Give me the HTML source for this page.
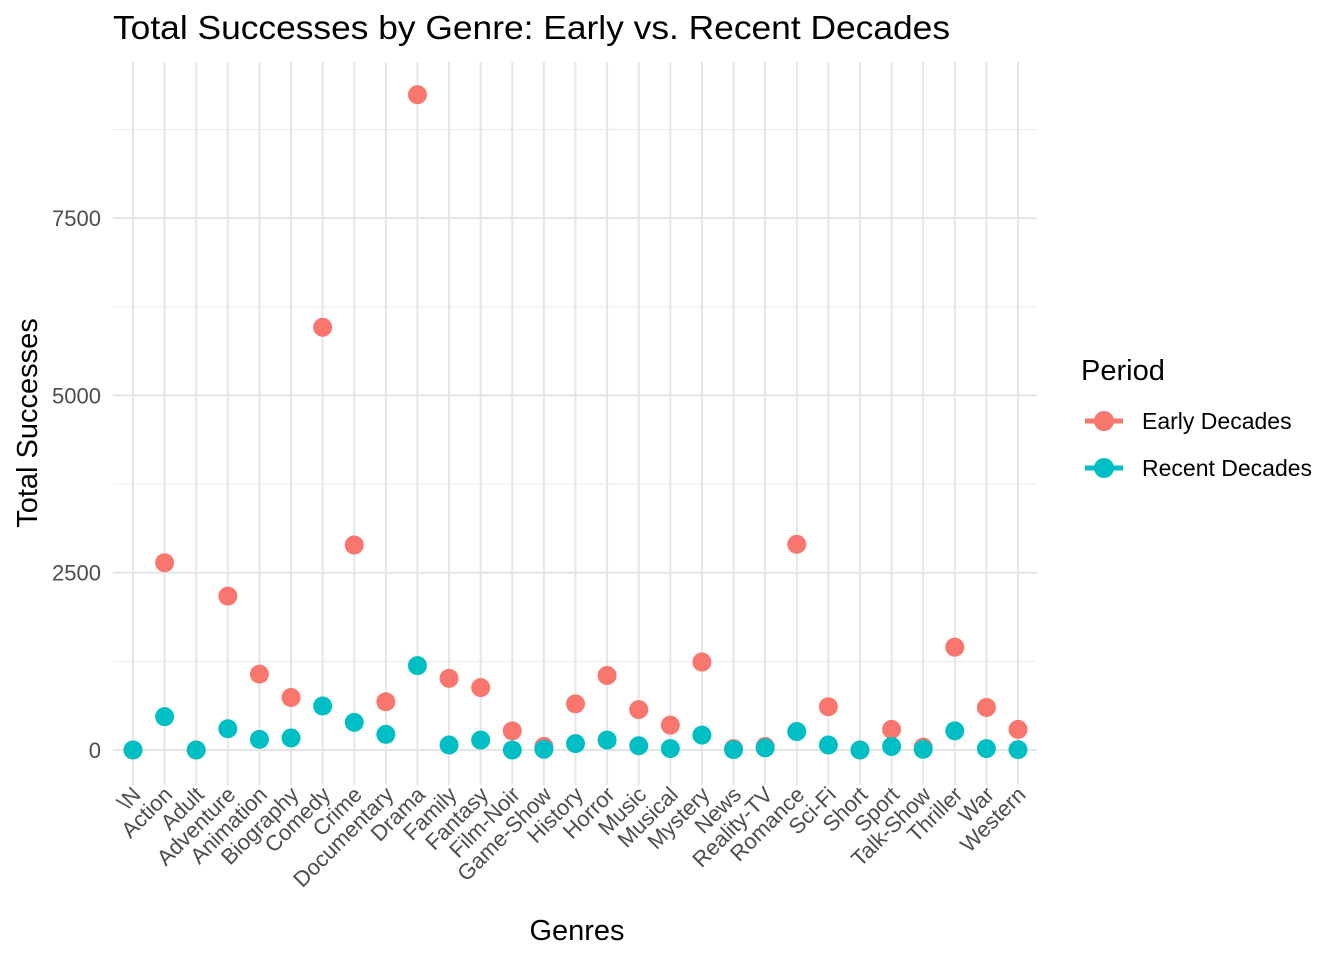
<!DOCTYPE html>
<html><head><meta charset="utf-8"><style>
body{margin:0;background:#fff;}
svg text{font-family:"Liberation Sans",Arial,sans-serif;}
</style></head><body>
<svg id="chart" width="1344" height="960" viewBox="0 0 1344 960">
<text x="113" y="39" font-size="33" textLength="837" lengthAdjust="spacingAndGlyphs" fill="#000">Total Successes by Genre: Early vs. Recent Decades</text>
<g id="grid"></g><g id="ticks"></g><g id="points"></g>
<text x="577" y="940" font-size="29" text-anchor="middle">Genres</text>
<text transform="translate(37,423) rotate(-90)" font-size="29" text-anchor="middle">Total Successes</text>
<g>
<text x="1081" y="380" font-size="29">Period</text>
<g>
<line x1="1085" y1="421" x2="1123" y2="421" stroke="#F8766D" stroke-width="5"/>
<circle cx="1104" cy="421" r="10" fill="#F8766D"/>
<text x="1142" y="429" font-size="23">Early Decades</text></g>
<g>
<line x1="1085" y1="468" x2="1123" y2="468" stroke="#00BFC4" stroke-width="5"/>
<circle cx="1104" cy="468" r="10" fill="#00BFC4"/>
<text x="1142" y="476" font-size="23">Recent Decades</text></g>
</g>
</svg>
<script>
const genres=["\\N","Action","Adult","Adventure","Animation","Biography","Comedy","Crime","Documentary","Drama","Family","Fantasy","Film-Noir","Game-Show","History","Horror","Music","Musical","Mystery","News","Reality-TV","Romance","Sci-Fi","Short","Sport","Talk-Show","Thriller","War","Western"];
const early=[0,2640,0,2170,1070,740,5960,2890,680,9240,1010,880,270,50,650,1050,570,350,1240,20,50,2900,610,0,290,40,1450,600,290];
const recent=[0,470,0,300,150,170,620,390,220,1190,70,140,0,10,90,140,60,20,210,5,30,260,70,0,50,10,270,20,5];
const yTicks=[0,2500,5000,7500];
const yMinor=[1250,3750,6250,8750];
const NS="http://www.w3.org/2000/svg";
const x=i=>133+i*(1018-133)/(genres.length-1);
const y=v=>750-v*(177.3/2500);
function mk(t,a,p){const e=document.createElementNS(NS,t);for(const k in a)e.setAttribute(k,a[k]);p.appendChild(e);return e;}
const grid=document.getElementById('grid'),ticks=document.getElementById('ticks'),pts=document.getElementById('points');
yMinor.forEach(v=>{const l=mk('line',{x1:113,x2:1037,y1:y(v),y2:y(v),stroke:'#ebebeb','stroke-width':1},grid);

});
yTicks.forEach(v=>{const l=mk('line',{x1:113,x2:1037,y1:y(v),y2:y(v),stroke:'#e5e5e5','stroke-width':2},grid);


const t=mk('text',{x:101,y:y(v)+8,'text-anchor':'end','font-size':22,fill:'#4d4d4d'},ticks);t.textContent=v;

});
genres.forEach((g,i)=>{const l=mk('line',{x1:x(i),x2:x(i),y1:62,y2:785,stroke:'#e5e5e5','stroke-width':2},grid);


const t=mk('text',{transform:`translate(${x(i)+9},${796}) rotate(-45)`,'text-anchor':'end','font-size':22,fill:'#4d4d4d'},ticks);t.textContent=g;

});
genres.forEach((g,i)=>{const c=mk('circle',{cx:x(i),cy:y(early[i]),r:9.5,fill:'#F8766D'},pts);

});
genres.forEach((g,i)=>{const c=mk('circle',{cx:x(i),cy:y(recent[i]),r:9.5,fill:'#00BFC4'},pts);

});
</script>
</body></html>
